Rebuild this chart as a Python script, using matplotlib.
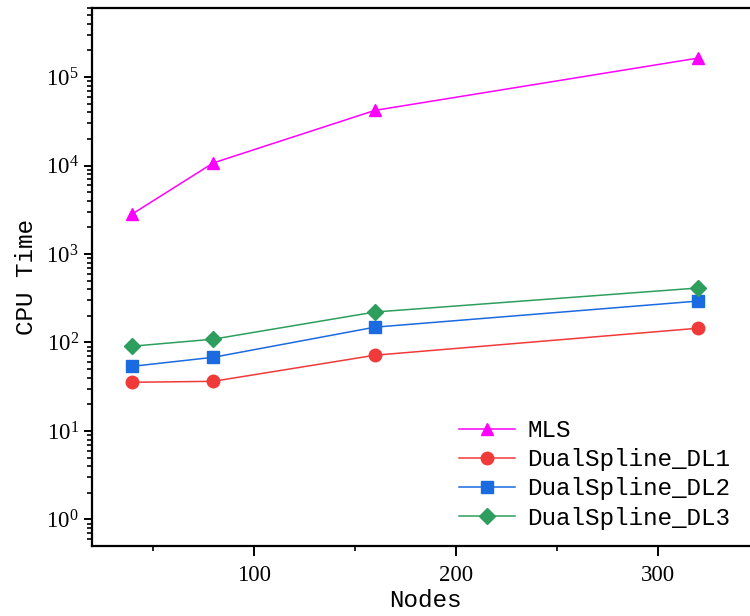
import matplotlib
matplotlib.use("Agg")
import matplotlib.pyplot as plt

nodes = [40, 80, 160, 320]
mls = [2840, 10700, 42000, 164000]
dl1 = [35.5, 36.4, 71.8, 145]
dl2 = [53.8, 68, 149, 294]
dl3 = [90.8, 109, 221, 413]

labels = ['MLS', 'DualSpline_DL1', 'DualSpline_DL2', 'DualSpline_DL3']
colors = ['#FF00FF', '#F03A3A', '#1A6AE0', '#2E9E5E']
markers = ['^', 'o', 's', 'D']
sizes = [9, 9, 8.5, 8.5]

plt.rcParams['font.family'] = 'Liberation Serif'
plt.rcParams['mathtext.fontset'] = 'custom'
plt.rcParams['mathtext.rm'] = 'Liberation Serif'

fig = plt.figure(figsize=(7.5, 6.16), dpi=100)
ax = fig.add_axes([92 / 750, 70 / 616, (759 - 92) / 750, (546 - 8) / 616])

for y, lab, c, m, s in zip([mls, dl1, dl2, dl3], labels, colors, markers, sizes):
    ax.plot(nodes, y, color=c, marker=m, markersize=s, linewidth=1.1, label=lab)

ax.set_yscale('log')
ax.set_xlim(20, 350)
ax.set_ylim(10 ** -0.3, 10 ** 5.78)
ax.set_xticks([100, 200, 300])
ax.set_xticks([50, 150, 250], minor=True)

for sp in ax.spines.values():
    sp.set_linewidth(1.6)

ax.tick_params(axis='both', which='major', direction='out', length=6, width=1.4, labelsize=16.5)
ax.tick_params(axis='both', which='minor', direction='out', length=3.5, width=1.2)
ax.tick_params(axis='x', which='major', length=7, pad=7)

ax.set_xlabel('Nodes', family='Liberation Mono', fontsize=17.5, labelpad=2)
ax.set_ylabel('CPU Time', family='Liberation Mono', fontsize=17.5, labelpad=6)

ax.legend(loc='lower right', bbox_to_anchor=(0.99, -0.01), frameon=False,
          prop={'family': 'Liberation Mono', 'size': 17.5}, handlelength=2.3,
          handletextpad=0.5, labelspacing=0.25)

fig.savefig('out.png', dpi=100)
